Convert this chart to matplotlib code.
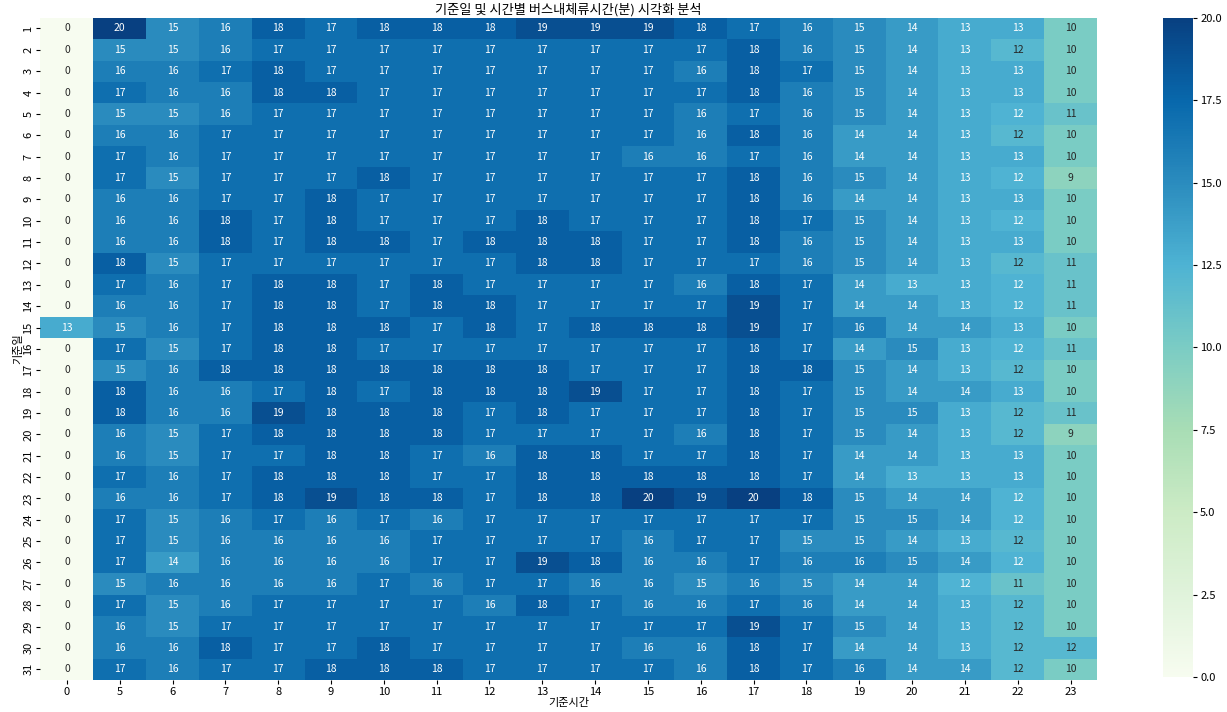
import numpy as np
import matplotlib.pyplot as plt
from matplotlib import colors

plt.rcParams['font.family'] = ['Noto Sans CJK KR', 'DejaVu Sans']

hours = [0, 5, 6, 7, 8, 9, 10, 11, 12, 13, 14, 15, 16, 17, 18, 19, 20, 21, 22, 23]
days = list(range(1, 32))

# 기준일 x 기준시간 버스내체류시간(분)
stay = np.array([
    [0, 20, 15, 16, 18, 17, 18, 18, 18, 19, 19, 19, 18, 17, 16, 15, 14, 13, 13, 10],
    [0, 15, 15, 16, 17, 17, 17, 17, 17, 17, 17, 17, 17, 18, 16, 15, 14, 13, 12, 10],
    [0, 16, 16, 17, 18, 17, 17, 17, 17, 17, 17, 17, 16, 18, 17, 15, 14, 13, 13, 10],
    [0, 17, 16, 16, 18, 18, 17, 17, 17, 17, 17, 17, 17, 18, 16, 15, 14, 13, 13, 10],
    [0, 15, 15, 16, 17, 17, 17, 17, 17, 17, 17, 17, 16, 17, 16, 15, 14, 13, 12.45, 11],
    [0, 16, 16, 17, 17, 17, 17, 17, 17, 17, 17, 17, 16, 18, 16, 14, 14, 13, 12, 10],
    [0, 17, 16, 17, 17, 17, 17, 17, 17, 17, 17, 16, 16, 17, 16, 14, 14, 13, 13, 10],
    [0, 17, 15, 17, 17, 17, 18, 17, 17, 17, 17, 17, 17, 18, 16, 15, 14, 13, 12.45, 9],
    [0, 16, 16, 17, 17, 18, 17, 17, 17, 17, 17, 17, 17, 18, 16, 14, 14, 13, 13, 10],
    [0, 16, 16, 18, 17, 18, 17, 17, 17, 18, 17, 17, 17, 18, 17, 15, 14, 13, 12.45, 10],
    [0, 16, 16, 18, 17, 18, 18, 17, 18, 18, 18, 17, 17, 18, 16, 15, 14, 13, 13, 10],
    [0, 18, 15, 17, 17, 17, 17, 17, 17, 18, 18, 17, 17, 17, 16, 15, 14, 13, 12, 11],
    [0, 17, 16, 17, 18, 18, 17, 18, 17, 17, 17, 17, 16, 18, 17, 14, 13, 13, 12.45, 11],
    [0, 16, 16, 17, 18, 18, 17, 18, 18, 17, 17, 17, 17, 19, 17, 14, 14, 13, 12.45, 11],
    [13, 15, 16, 17, 18, 18, 18, 17, 18, 17, 18, 18, 18, 19, 17, 16, 14, 14, 13, 10],
    [0, 17, 15, 17, 18, 18, 17, 17, 17, 17, 17, 17, 17, 18, 17, 14, 15, 13, 12.45, 11],
    [0, 15, 16, 18, 18, 18, 18, 18, 18, 18, 17, 17, 17, 18, 18, 15, 14, 13, 12, 10],
    [0, 18, 16, 16, 17, 18, 17, 18, 18, 18, 19, 17, 17, 18, 17, 15, 14, 14, 13, 10],
    [0, 18, 16, 16, 19, 18, 18, 18, 17, 18, 17, 17, 17, 18, 17, 15, 15, 13, 12, 11],
    [0, 16, 15, 17, 18, 18, 18, 18, 17, 17, 17, 17, 16, 18, 17, 15, 14, 13, 12, 9],
    [0, 16, 15, 17, 17, 18, 18, 17, 16, 18, 18, 17, 17, 18, 17, 14, 14, 13, 13, 10],
    [0, 17, 16, 17, 18, 18, 18, 17, 17, 18, 18, 18, 18, 18, 17, 14, 13, 13, 13, 10],
    [0, 16, 16, 17, 18, 19, 18, 18, 17, 18, 18, 20, 19, 20, 18, 15, 14, 14, 12.45, 10],
    [0, 17, 15, 16, 17, 16, 17, 16, 17, 17, 17, 17, 17, 17, 17, 15, 15, 14, 12.45, 10],
    [0, 17, 15, 16, 16, 16, 16, 17, 17, 17, 17, 16, 17, 17, 15, 15, 14, 13, 12, 10],
    [0, 17, 14, 16, 16, 16, 16, 17, 17, 19, 18, 16, 16, 17, 16, 16, 15, 14, 12.45, 10],
    [0, 15, 16, 16, 16, 16, 17, 16, 17, 17, 16, 16, 15, 16, 15, 14, 14, 12.45, 11, 10],
    [0, 17, 15, 16, 17, 17, 17, 17, 16, 18, 17, 16, 16, 17, 16, 14, 14, 13, 12, 10],
    [0, 16, 15, 17, 17, 17, 17, 17, 17, 17, 17, 17, 17, 19, 17, 15, 14, 13, 12, 10],
    [0, 16, 16, 18, 17, 17, 18, 17, 17, 17, 17, 16, 16, 18, 17, 14, 14, 13, 12, 12],
    [0, 17, 16, 17, 17, 18, 18, 18, 17, 17, 17, 17, 16, 18, 17, 16, 14, 14, 12, 10],
], dtype=float)

fig = plt.figure(figsize=(12.27, 7.12), dpi=100)
ax = fig.add_axes([0.033, 0.045, 0.861, 0.930])
cax = fig.add_axes([0.948, 0.049, 0.0245, 0.926])

cmap = plt.get_cmap('GnBu')
norm = colors.Normalize(vmin=0, vmax=20)
mesh = ax.pcolormesh(stay, cmap=cmap, norm=norm)
ax.set_xlim(0, len(hours))
ax.set_ylim(len(days), 0)


def rel_lum(c):
    rgb = np.array(c[:3])
    rgb = np.where(rgb <= 0.03928, rgb / 12.92, ((rgb + 0.055) / 1.055) ** 2.4)
    return rgb.dot([0.2126, 0.7152, 0.0722])


for i in range(stay.shape[0]):
    for j in range(stay.shape[1]):
        v = stay[i, j]
        tc = '#262626' if rel_lum(cmap(norm(v))) > 0.408 else 'white'
        ax.text(j + 0.5, i + 0.5, f'{v:.0f}', ha='center', va='center',
                fontsize=7.5, color=tc)

ax.set_xticks(np.arange(len(hours)) + 0.5)
ax.set_xticklabels(hours, fontsize=8)
ax.set_yticks(np.arange(len(days)) + 0.5)
ax.set_yticklabels(days, fontsize=8, rotation=90, va='center')
ax.tick_params(length=3, pad=2)
for s in ax.spines.values():
    s.set_visible(False)

ax.set_xlabel('기준시간', fontsize=8, labelpad=1)
ax.set_ylabel('기준일', fontsize=8, labelpad=0)
ax.set_title('기준일 및 시간별 버스내체류시간(분) 시각화 분석', fontsize=9.5, pad=3)

cb = fig.colorbar(mesh, cax=cax)
cb.outline.set_visible(False)
cb.set_ticks(np.arange(0, 20.1, 2.5))
cb.ax.set_yticklabels([f'{t:.1f}' for t in np.arange(0, 20.1, 2.5)], fontsize=8)
cb.ax.tick_params(length=3, pad=2)

fig.savefig('out.png', dpi=100)
